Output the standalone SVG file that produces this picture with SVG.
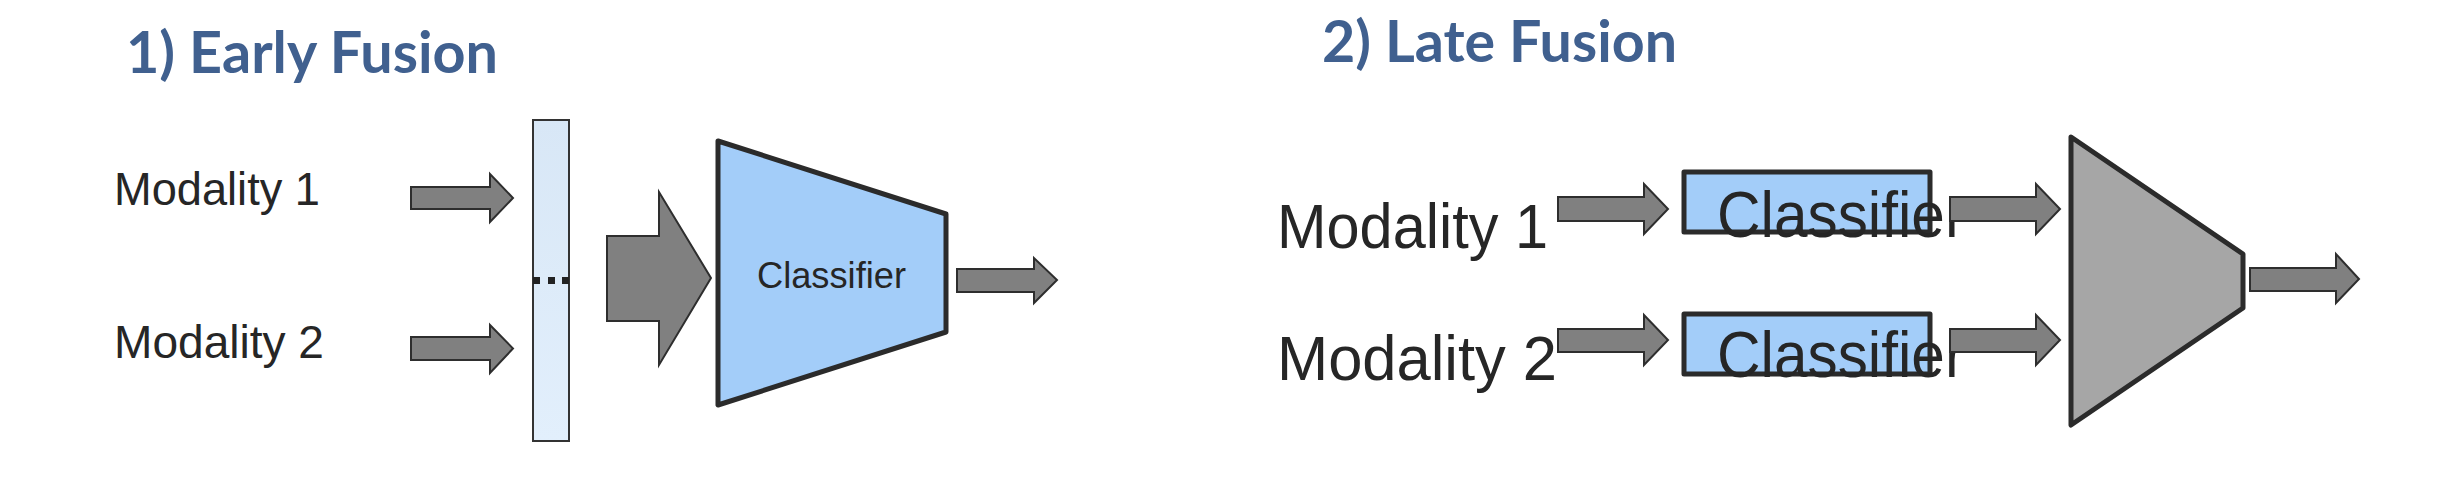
<svg xmlns="http://www.w3.org/2000/svg" width="2462" height="486" viewBox="0 0 2462 486">
<defs>
<style>
.title{font-family:Lato,"Open Sans","Liberation Sans",sans-serif;font-weight:bold;fill:#40608F}
.lbl{font-family:"Liberation Sans",Arial,sans-serif;fill:#262626}
.arrow{fill:#808080;stroke:#2E2E2E;stroke-width:2;stroke-linejoin:miter}
.cls{fill:#A3CDF9;stroke:#2B2B2B;stroke-width:5;stroke-linejoin:round}
.fuse{fill:#A6A6A6;stroke:#2B2B2B;stroke-width:5;stroke-linejoin:round}
.dot{fill:#222}
</style>
<linearGradient id="barfill" x1="0" y1="0" x2="0" y2="1">
<stop offset="0" stop-color="#D8E7F6"/>
<stop offset="0.5" stop-color="#DDEBF9"/>
<stop offset="1" stop-color="#E2EFFC"/>
</linearGradient>
</defs>
<rect width="2462" height="486" fill="#FFFFFF"/>

<g id="title-early">
<text class="title" x="126" y="73" font-size="57" textLength="372" lengthAdjust="spacingAndGlyphs">1) Early Fusion</text>
</g>
<g id="title-late">
<text class="title" x="1322" y="62" font-size="57" textLength="355" lengthAdjust="spacingAndGlyphs">2) Late Fusion</text>
</g>

<g id="ef-modality1">
<text class="lbl" x="114" y="205" font-size="46" textLength="206" lengthAdjust="spacingAndGlyphs">Modality 1</text>
</g>
<g id="ef-modality2">
<text class="lbl" x="114" y="358" font-size="46" textLength="210" lengthAdjust="spacingAndGlyphs">Modality 2</text>
</g>

<g id="ef-concat">
<rect x="533" y="120" width="36" height="321" fill="url(#barfill)" stroke="#333" stroke-width="2"/>
<rect class="dot" x="533" y="277" width="7" height="7"/>
<rect class="dot" x="548" y="277" width="7" height="7"/>
<rect class="dot" x="562" y="277" width="7" height="7"/>
</g>

<g id="ef-classifier">
<polygon class="cls" points="718,141 946,214 946,332 718,405"/>
<text class="lbl" x="757" y="288" font-size="37" textLength="149" lengthAdjust="spacingAndGlyphs">Classifier</text>
</g>

<g id="lf-modality1">
<text class="lbl" x="1277" y="248" font-size="63" textLength="271" lengthAdjust="spacingAndGlyphs">Modality 1</text>
</g>
<g id="lf-modality2">
<text class="lbl" x="1277" y="380" font-size="63" textLength="280" lengthAdjust="spacingAndGlyphs">Modality 2</text>
</g>

<g id="lf-classifier1">
<rect class="cls" x="1684" y="172" width="246" height="60" stroke-width="4.5" stroke-linejoin="miter"/>
<text class="lbl" x="1717" y="237" font-size="64" textLength="248" lengthAdjust="spacingAndGlyphs">Classifier</text>
</g>
<g id="lf-classifier2">
<rect class="cls" x="1684" y="314" width="246" height="60" stroke-width="4.5" stroke-linejoin="miter"/>
<text class="lbl" x="1717" y="377" font-size="64" textLength="248" lengthAdjust="spacingAndGlyphs">Classifier</text>
</g>

<g id="lf-fusion">
<polygon class="fuse" points="2071,137 2243,254 2243,308 2071,425"/>
</g>

<g id="connectors">
<polygon class="arrow" points="411,187 490,187 490,174 513,198 490,222 490,209 411,209"/>
<polygon class="arrow" points="411,337 490,337 490,325 513,348.5 490,373 490,360 411,360"/>
<polygon class="arrow" points="607,236 659,236 659,192 711,278 659,365 659,321 607,321"/>
<polygon class="arrow" points="957,269 1034,269 1034,258 1057,280 1034,303 1034,292 957,292"/>
<polygon class="arrow" points="1558,197 1644,197 1644,184 1668,209 1644,234 1644,221 1558,221"/>
<polygon class="arrow" points="1558,329 1644,329 1644,315 1668,340 1644,365 1644,352 1558,352"/>
<polygon class="arrow" points="1950,197 2036,197 2036,184 2060,209 2036,234 2036,221 1950,221"/>
<polygon class="arrow" points="1950,329 2036,329 2036,315 2060,340 2036,365 2036,352 1950,352"/>
<polygon class="arrow" points="2250,268 2336,268 2336,254 2359,279 2336,303 2336,291 2250,291"/>
</g>
</svg>
